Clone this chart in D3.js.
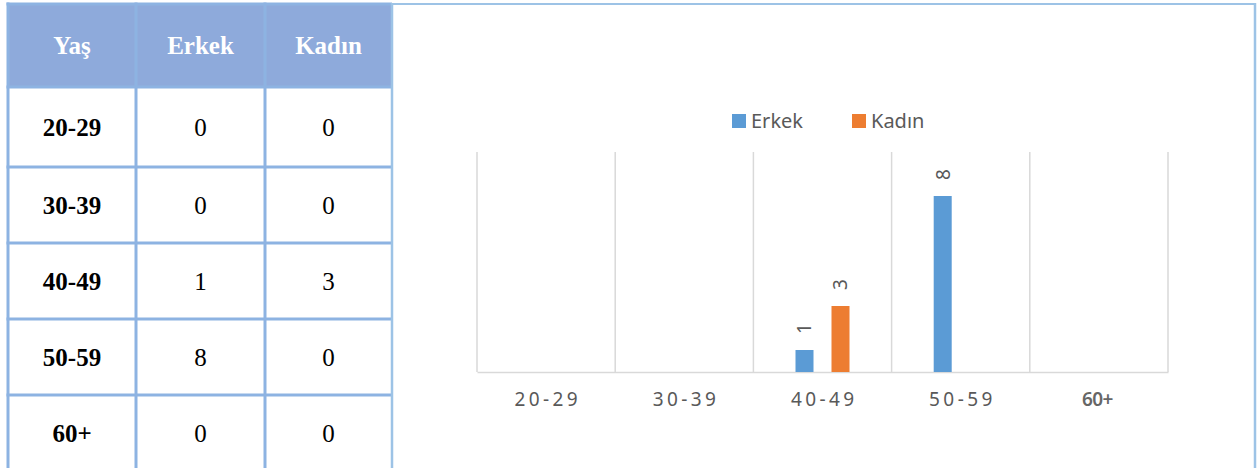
<!DOCTYPE html>
<html>
<head>
<meta charset="utf-8">
<script src="https://cdn.jsdelivr.net/npm/d3@7"></script>
<style>
  html, body { margin: 0; padding: 0; background: #fff; }
  svg { display: block; }
</style>
</head>
<body>
<svg id="chart" width="1260" height="468"></svg>
<script>
// ---- data ----
const categories = ["20-29", "30-39", "40-49", "50-59", "60+"];
const erkek = [0, 0, 1, 8, 0];
const kadin = [0, 0, 3, 0, 0];
const seriesNames = ["Erkek", "Kadın"];
const tableHeaders = ["Yaş", "Erkek", "Kadın"];
const yMax = 10;

// ---- layout ----
const W = 1260, H = 468;
const svg = d3.select("#chart");
const tableColEdges = [8, 136, 265, 392];
const tableRowEdges = [4, 87, 167, 243, 319, 395, 471];
const tableBorder = "#8DB3E2";
const headerFill = "#8EAADB";
const frameColor = "#9DC3E6";
const textGray = "#595959";
const colors = { "Erkek": "#5B9BD5", "Kadın": "#ED7D31" };

// ---- table ----
const tbl = svg.append("g");
tbl.append("rect")
  .attr("x", tableColEdges[0]).attr("y", tableRowEdges[0])
  .attr("width", tableColEdges[3] - tableColEdges[0])
  .attr("height", tableRowEdges[1] - tableRowEdges[0])
  .attr("fill", headerFill);

const rows = [tableHeaders].concat(categories.map((c, i) => [c, String(erkek[i]), String(kadin[i])]));
rows.forEach((row, ri) => {
  const cy = (tableRowEdges[ri] + tableRowEdges[ri + 1]) / 2;
  row.forEach((cell, ci) => {
    const cx = (tableColEdges[ci] + tableColEdges[ci + 1]) / 2;
    tbl.append("text")
      .attr("x", cx).attr("y", cy + 8.5)
      .attr("text-anchor", "middle")
      .attr("font-family", "'Liberation Serif', 'Times New Roman', serif")
      .attr("font-size", 25)
      .attr("font-weight", (ri === 0 || ci === 0) ? "bold" : "normal")
      .attr("fill", ri === 0 ? "#ffffff" : "#000000")
      .text(cell);
  });
});
tableRowEdges.forEach(y => {
  tbl.append("line")
    .attr("x1", tableColEdges[0] - 1.5).attr("x2", tableColEdges[3])
    .attr("y1", y).attr("y2", y)
    .attr("stroke", tableBorder).attr("stroke-width", 3);
});
tableColEdges.slice(0, 3).forEach(x => {
  tbl.append("line")
    .attr("x1", x).attr("x2", x)
    .attr("y1", tableRowEdges[0] - 1.5).attr("y2", H)
    .attr("stroke", tableBorder).attr("stroke-width", 3);
});

// ---- chart frame ----
svg.append("line").attr("x1", 392).attr("x2", 1256).attr("y1", 4).attr("y2", 4)
  .attr("stroke", frameColor).attr("stroke-width", 2);
svg.append("line").attr("x1", 1255).attr("x2", 1255).attr("y1", 3).attr("y2", H)
  .attr("stroke", frameColor).attr("stroke-width", 2.5);
svg.append("line").attr("x1", 392).attr("x2", 392).attr("y1", 3).attr("y2", H)
  .attr("stroke", frameColor).attr("stroke-width", 2.5);

// ---- chart ----
const x = d3.scaleBand().domain(categories).range([477, 1168]).padding(0);
const xs = d3.scaleBand().domain(seriesNames).range([-27, 27]).paddingInner(0.5);
const y = d3.scaleLinear().domain([0, yMax]).range([372, 152]);

const g = svg.append("g");

const bounds = categories.map(c => x(c)).concat([x.range()[1]]);
g.selectAll("line.grid").data(bounds).enter().append("line")
  .attr("class", "grid")
  .attr("x1", d => d).attr("x2", d => d)
  .attr("y1", y(yMax)).attr("y2", y(0))
  .attr("stroke", "#D9D9D9").attr("stroke-width", 1.5);

const axis = d3.axisBottom(x).tickSize(0).tickPadding(21);
const axG = g.append("g").attr("transform", `translate(0,${y(0)})`).call(axis);
axG.select(".domain").attr("stroke", "#D9D9D9").attr("stroke-width", 1.5);
axG.selectAll("text")
  .attr("font-family", "'Noto Sans', sans-serif")
  .attr("font-size", 19)
  .attr("fill", textGray)
  .attr("letter-spacing", 3.4)
  .attr("dx", 1.7)
  .each(function(d) {
    if (d === "60+") {
      d3.select(this).attr("font-size", 19).attr("font-weight", "600").attr("fill", "#666666")
        .attr("letter-spacing", -0.6).attr("dx", -1.5);
    }
  });

// bars
const barData = [];
categories.forEach((c, i) => {
  barData.push({ cat: c, s: "Erkek", v: erkek[i] });
  barData.push({ cat: c, s: "Kadın", v: kadin[i] });
});
const bx = d => x(d.cat) + x.bandwidth() / 2 + xs(d.s);
g.selectAll("rect.bar").data(barData.filter(d => d.v > 0)).enter().append("rect")
  .attr("class", "bar")
  .attr("x", bx)
  .attr("y", d => y(d.v))
  .attr("width", xs.bandwidth())
  .attr("height", d => y(0) - y(d.v))
  .attr("fill", d => colors[d.s]);

// rotated data labels
g.selectAll("text.lbl").data(barData.filter(d => d.v > 0)).enter().append("text")
  .attr("class", "lbl")
  .attr("transform", d => `translate(${bx(d) + xs.bandwidth() / 2},${y(d.v) - 16}) rotate(-90)`)
  .attr("dy", "0.36em")
  .attr("text-anchor", "start")
  .attr("font-family", "'Noto Sans', sans-serif")
  .attr("font-size", 19)
  .attr("fill", textGray)
  .text(d => d.v);

// legend
const legendX = [732, 852];
const lg = svg.append("g");
seriesNames.forEach((s, i) => {
  lg.append("rect").attr("x", legendX[i]).attr("y", 114).attr("width", 14).attr("height", 14)
    .attr("fill", colors[s]);
  lg.append("text").attr("x", legendX[i] + 19).attr("y", 128)
    .attr("font-family", "'Noto Sans', sans-serif")
    .attr("font-size", 20)
    .attr("fill", textGray)
    .text(s);
});
</script>
</body>
</html>
